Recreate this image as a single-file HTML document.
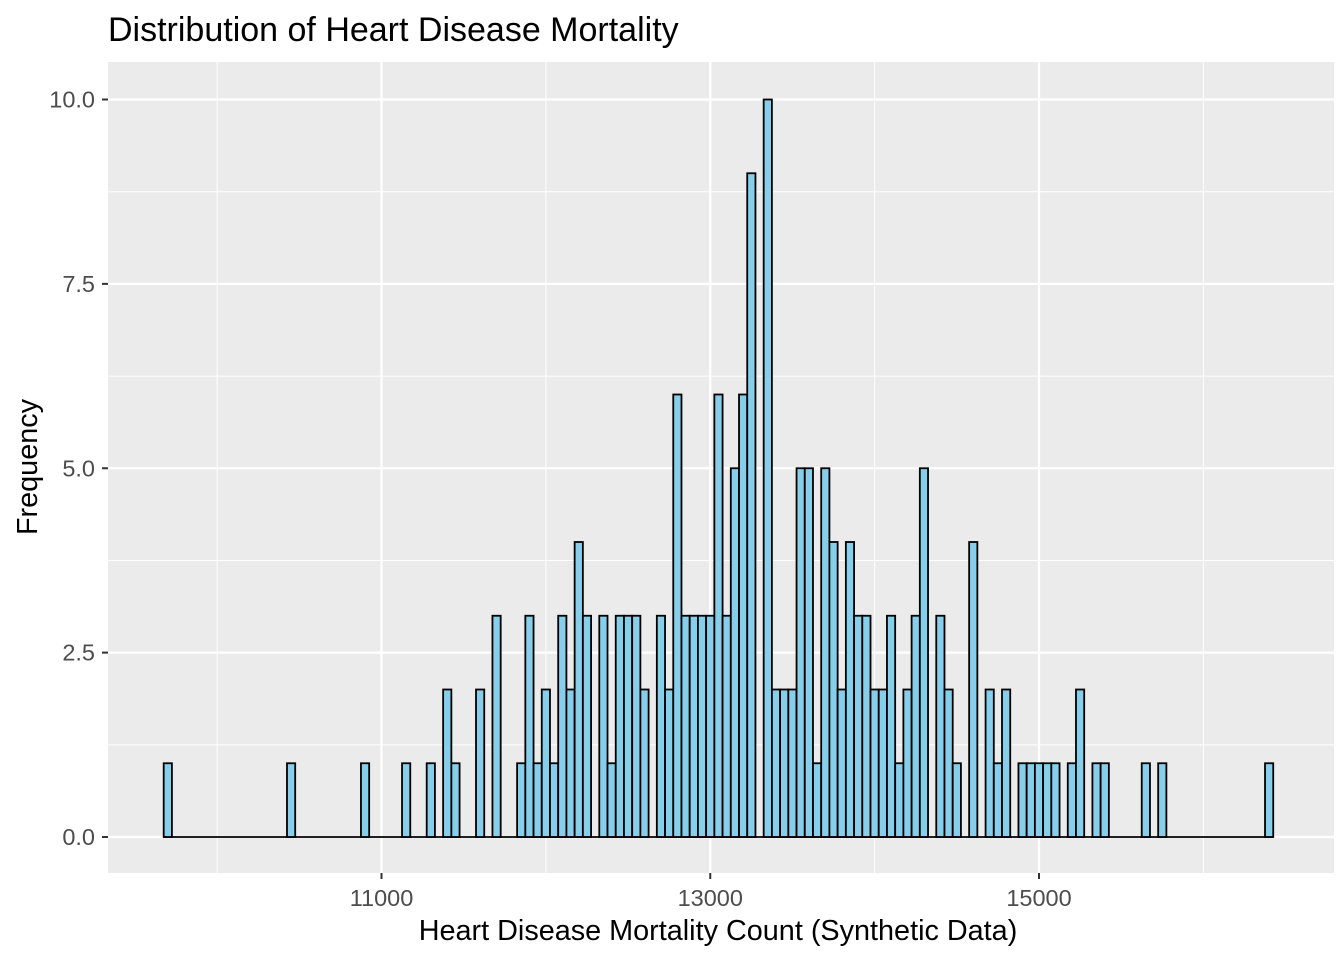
<!DOCTYPE html>
<html><head><meta charset="utf-8"><style>
html,body{margin:0;padding:0;background:#fff;}
svg{display:block;font-family:"Liberation Sans",Arial,sans-serif;}
</style></head><body>
<svg id="chart" width="1344" height="960" viewBox="0 0 1344 960">
<rect x="0" y="0" width="1344" height="960" fill="#fff"/>
<rect x="108" y="62" width="1226" height="811" fill="#ebebeb"/>
<g id="grid"></g>
<g id="bars"></g>
<g id="axes"></g>
<text x="108" y="41" font-size="34" fill="#000">Distribution of Heart Disease Mortality</text>
<text x="718" y="940" font-size="28.8" fill="#000" text-anchor="middle">Heart Disease Mortality Count (Synthetic Data)</text>
<text transform="translate(37,467) rotate(-90)" font-size="28.8" fill="#000" text-anchor="middle">Frequency</text>
</svg>
<script>
const binStart = 9675;
const binWidth = 50;
const counts = [1,0,0,0,0,0,0,0,0,0,0,0,0,0,0,1,0,0,0,0,0,0,0,0,1,0,0,0,0,1,
0,0,1,0,2,1,0,0,2,0,3,0,0,1,3,1,2,1,3,2,4,3,0,3,1,3,3,3,2,0,
3,2,6,3,3,3,3,6,3,5,6,9,0,10,2,2,2,5,5,1,5,4,2,4,3,3,2,2,3,1,
2,3,5,0,3,2,1,0,4,0,2,1,2,0,1,1,1,1,1,0,1,2,0,1,1,0,0,0,0,1,
0,1,0,0,0,0,0,0,0,0,0,0,0,0,1];
const xTicks = [11000,13000,15000];
const xMinor = [10000,12000,14000,16000];
const yTicks = [0,2.5,5,7.5,10];
const yTickLabels = ["0.0","2.5","5.0","7.5","10.0"];
const yMinor = [1.25,3.75,6.25,8.75];

const NS = "http://www.w3.org/2000/svg";
const X = v => 381.5 + (v - 11000) * 0.164375;
const Y = v => 837 - v * 73.75;
function mk(tag, attrs, parent){
  const e = document.createElementNS(NS, tag);
  for (const k in attrs) e.setAttribute(k, attrs[k]);
  parent.appendChild(e);
  return e;
}
const grid = document.getElementById('grid');
const bars = document.getElementById('bars');
const axes = document.getElementById('axes');

yMinor.forEach(v => {
  const l = mk('line', {x1:108, x2:1334, y1:Y(v), y2:Y(v), stroke:'#fff', 'stroke-width':1}, grid);
  
  
});
xMinor.forEach(v => {
  const l = mk('line', {x1:X(v), x2:X(v), y1:62, y2:873, stroke:'#fff', 'stroke-width':1}, grid);
  
  
});
yTicks.forEach((v, i) => {
  const l = mk('line', {x1:108, x2:1334, y1:Y(v), y2:Y(v), stroke:'#fff', 'stroke-width':2.2}, grid);
  
  
  const t = mk('line', {x1:102, x2:108, y1:Y(v), y2:Y(v), stroke:'#333', 'stroke-width':2}, axes);
  
  
  const tx = mk('text', {x:95, y:Y(v) + 8, 'font-size':23.5, fill:'#4d4d4d', 'text-anchor':'end'}, axes);
  tx.textContent = yTickLabels[i];
  
  
});
xTicks.forEach(v => {
  const l = mk('line', {x1:X(v), x2:X(v), y1:62, y2:873, stroke:'#fff', 'stroke-width':2.2}, grid);
  
  
  const t = mk('line', {x1:X(v), x2:X(v), y1:873, y2:879, stroke:'#333', 'stroke-width':2}, axes);
  
  
  const tx = mk('text', {x:X(v), y:906, 'font-size':23.5, fill:'#4d4d4d', 'text-anchor':'middle'}, axes);
  tx.textContent = String(v);
  
  
});
const base = mk('line', {x1:X(binStart), x2:X(binStart + counts.length * binWidth), y1:Y(0), y2:Y(0), stroke:'#000', 'stroke-width':1.8}, bars);


counts.forEach((c, i) => {
  const x0 = X(binStart + i * binWidth), x1 = X(binStart + (i + 1) * binWidth);
  const r = mk('rect', {x:x0, y:Y(c), width:x1 - x0, height:Y(0) - Y(c), fill:'#87ceeb', stroke:'#000', 'stroke-width':1.8}, bars);
  
  
});
</script>
</body></html>
